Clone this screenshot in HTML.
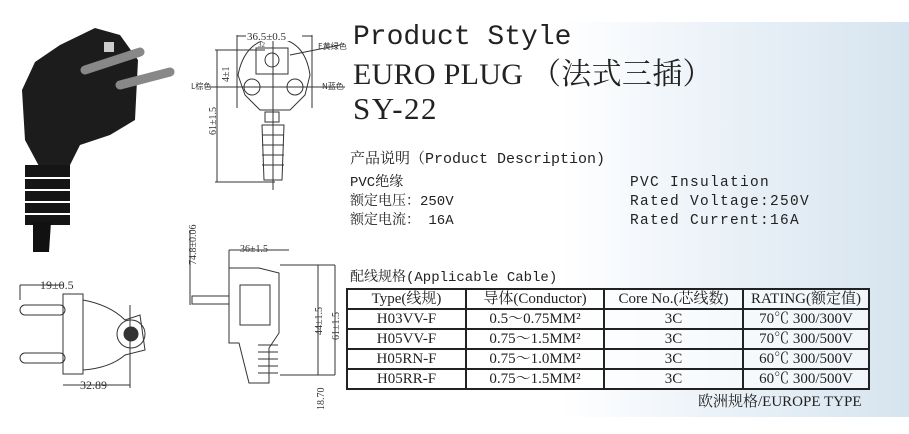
<!DOCTYPE html>
<html><head><meta charset="utf-8"><style>
body{margin:0;width:909px;height:434px;overflow:hidden;background:#fff;position:relative;font-family:"Liberation Mono","Noto Serif CJK SC",monospace;color:#222}
.bg{position:absolute;left:560px;top:22px;width:349px;height:395px;background:linear-gradient(90deg,rgba(255,255,255,1) 0%,rgba(235,242,248,1) 45%,#d6e4ef 100%)}
.t{position:absolute;white-space:nowrap;line-height:1}
table{position:absolute;left:346px;top:288px;border-collapse:collapse;font-family:"Liberation Serif","Noto Serif CJK SC",serif;font-size:15px;table-layout:fixed}
td{border:2px solid #222;text-align:center;padding:0;height:18px;line-height:18px;background:rgba(255,255,255,.6);overflow:hidden;white-space:nowrap}
</style></head><body>
<div class="bg"></div>
<div class="t" style="left:353px;top:24px;font-size:28px">Product Style</div>
<div class="t" style="left:353px;top:60px;font-family:'Liberation Serif','Noto Serif CJK SC',serif;font-size:30px;letter-spacing:0.3px">EURO PLUG （法式三插）</div>
<div class="t" style="left:353px;top:93px;font-family:'Liberation Serif',serif;font-size:31px;letter-spacing:1.5px">SY-22</div>
<div class="t" style="left:350px;top:152px;font-size:15px;font-family:'Liberation Mono','Noto Serif CJK SC',monospace">产品说明（Product Description)</div>
<div class="t" style="left:350px;top:174px;font-size:14px;font-family:'Liberation Mono','Noto Serif CJK SC',monospace;line-height:19px">PVC绝缘<br>额定电压：250V<br>额定电流： 16A</div>
<div class="t" style="left:630px;top:174px;font-size:14.5px;line-height:19px;letter-spacing:1.3px">PVC Insulation<br>Rated Voltage:250V<br>Rated Current:16A</div>
<div class="t" style="left:350px;top:271px;font-size:14px;font-family:'Liberation Mono','Noto Serif CJK SC',monospace">配线规格(Applicable Cable)</div>
<table>
<colgroup><col style="width:119px"><col style="width:138px"><col style="width:139px"><col style="width:126px"></colgroup>
<tr><td>Type(线规)</td><td>导体(Conductor)</td><td>Core No.(芯线数)</td><td>RATING(额定值)</td></tr>
<tr><td>H03VV-F</td><td>0.5～0.75MM²</td><td>3C</td><td>70℃ 300/300V</td></tr>
<tr><td>H05VV-F</td><td>0.75～1.5MM²</td><td>3C</td><td>70℃ 300/500V</td></tr>
<tr><td>H05RN-F</td><td>0.75～1.0MM²</td><td>3C</td><td>60℃ 300/500V</td></tr>
<tr><td>H05RR-F</td><td>0.75～1.5MM²</td><td>3C</td><td>60℃ 300/500V</td></tr>
</table>
<div class="t" style="left:698px;top:395px;font-size:15px;font-family:'Liberation Serif','Noto Serif CJK SC',serif">欧洲规格/EUROPE TYPE</div>

<svg width="909" height="434" style="position:absolute;left:0;top:0" font-family="Liberation Serif,serif">
<path d="M35 62 L60 45 L95 28 L120 35 L138 60 L135 120 L110 135 L80 145 L70 165 L40 168 L25 140 L22 90 Z" fill="#1c1c1c"/>
<path d="M25 165 h45 v60 h-45z" fill="#151515"/>
<g stroke="#fff" stroke-width="2"><line x1="24" y1="178" x2="72" y2="178"/><line x1="24" y1="190" x2="72" y2="190"/><line x1="24" y1="202" x2="72" y2="202"/><line x1="24" y1="214" x2="72" y2="214"/></g>
<path d="M33 222 h18 l-2 30 h-16z" fill="#111"/>
<line x1="85" y1="70" x2="140" y2="52" stroke="#888" stroke-width="9" stroke-linecap="round"/>
<line x1="120" y1="85" x2="170" y2="72" stroke="#888" stroke-width="9" stroke-linecap="round"/>
<rect x="104" y="42" width="10" height="10" fill="#ccc"/>
<g fill="none" stroke="#333" stroke-width="1">
<path d="M238 75 Q245 40 275 38 Q305 40 310 75 L305 95 L290 110 L260 110 L245 95 Z"/>
<rect x="256" y="48" width="32" height="26"/>
<circle cx="272" cy="60" r="7"/>
<circle cx="252" cy="87" r="8"/><circle cx="295" cy="87" r="8"/>
<rect x="265" y="112" width="14" height="10"/>
<path d="M262 125 h22 l-2 55 h-18z"/>
<path d="M262 135h22M262 145h22M262 155h22M262 165h22"/>
<line x1="237" y1="35" x2="237" y2="108"/><line x1="312" y1="35" x2="312" y2="108"/>
<line x1="237" y1="36" x2="312" y2="36"/>
<line x1="215" y1="50" x2="265" y2="50"/><line x1="215" y1="182" x2="275" y2="182"/>
<line x1="217" y1="50" x2="217" y2="182"/>
<line x1="205" y1="87" x2="345" y2="87"/>
<line x1="273" y1="40" x2="273" y2="190"/>
<line x1="290" y1="55" x2="340" y2="45"/>
<rect x="20" y="305" width="45" height="10" rx="5"/><rect x="20" y="353" width="45" height="10" rx="5"/>
<rect x="63" y="294" width="20" height="80"/>
<path d="M83 300 Q110 305 125 320 L140 315 L145 350 L125 355 Q110 368 83 370"/>
<circle cx="131" cy="334" r="14"/><circle cx="131" cy="334" r="7" fill="#333"/>
<line x1="20" y1="285" x2="63" y2="285"/><line x1="20" y1="285" x2="20" y2="300"/>
<line x1="63" y1="385" x2="130" y2="385"/><line x1="130" y1="305" x2="130" y2="388"/>
<rect x="192" y="296" width="37" height="8"/>
<path d="M229 268 h30 l20 5 v60 l-10 15 v35 h-20 l-10 -40 h-10z"/>
<rect x="240" y="285" width="30" height="40"/>
<path d="M258 345h20M258 352h20M258 359h20M258 366h20M258 373h20"/>
<line x1="229" y1="250" x2="289" y2="250"/><line x1="229" y1="250" x2="229" y2="340"/>
<line x1="318" y1="265" x2="318" y2="375"/><line x1="335" y1="265" x2="335" y2="375"/>
<line x1="280" y1="265" x2="335" y2="265"/><line x1="280" y1="375" x2="335" y2="375"/>
<line x1="190" y1="230" x2="190" y2="305"/>
</g>
<g font-size="10" fill="#333">
<rect x="246" y="30" width="56" height="11" fill="#fff"/>
<text x="247" y="40" font-size="11">36.5±0.5</text><text x="258" y="47" font-size="7">32</text>
<text x="318" y="49" font-size="8" font-family="Noto Sans CJK SC,sans-serif">E黄绿色</text>
<text x="191" y="89" font-size="8" font-family="Noto Sans CJK SC,sans-serif">L棕色</text>
<text x="322" y="89" font-size="8" font-family="Noto Sans CJK SC,sans-serif">N蓝色</text>
<text x="40" y="289" font-size="12">19±0.5</text>
<text x="80" y="389" font-size="12">32.89</text>
<text x="240" y="252">36±1.5</text>
<text transform="translate(216,135) rotate(-90)">61±1.5</text>
<text transform="translate(229,82) rotate(-90)">4±1</text>
<text transform="translate(196,265) rotate(-90)">74.8±0.06</text>
<text transform="translate(322,335) rotate(-90)">44±1.5</text>
<text transform="translate(339,340) rotate(-90)">61±1.5</text>
<text transform="translate(324,410) rotate(-90)">18.70</text>
</g>
</svg>
</body></html>
